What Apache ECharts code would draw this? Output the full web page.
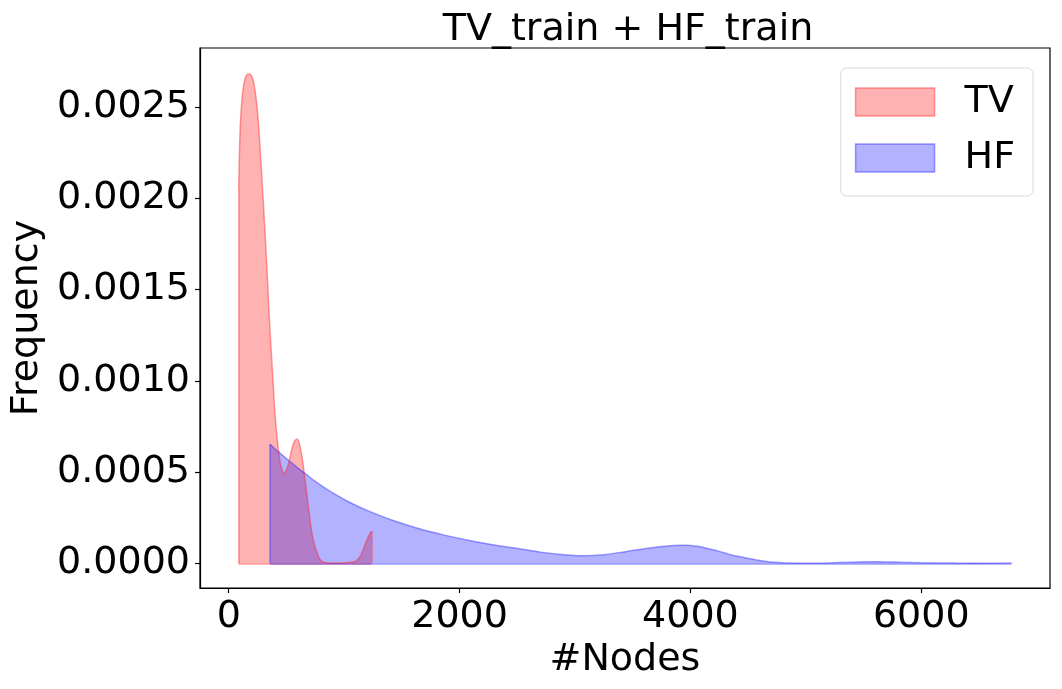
<!DOCTYPE html>
<html>
<head>
<meta charset="utf-8">
<script src="https://cdn.jsdelivr.net/npm/echarts@6/dist/echarts.min.js"></script>
<style>
html,body{margin:0;padding:0;background:#fff;}
#chart{width:1062px;height:689px;}
</style>
</head>
<body>
<div id="chart"></div>
<script>
// ---- data ----
const titleText = 'TV_train + HF_train';
const xName = '#Nodes';
const yName = 'Frequency';
const seriesNames = ['TV', 'HF'];

const xTicks = [0, 2000, 4000, 6000];
const yTicks = [0, 0.0005, 0.0010, 0.0015, 0.0020, 0.0025];

// TV density curve (x = #nodes, y = density)
const tvX = [86, 98, 112, 127, 150, 179, 205, 228, 250, 271, 292, 314, 336, 358, 380, 401, 422, 444, 463, 481, 498, 516, 537, 559, 576, 594, 612, 631, 652, 674, 696, 718, 740, 761, 782, 804, 850, 900, 950, 1000, 1050, 1100, 1130, 1161, 1202, 1236];
const tvY = [0.00205, 0.00237, 0.00252, 0.00261, 0.00267, 0.00268, 0.00266, 0.00259, 0.00247, 0.00228, 0.00206, 0.00182, 0.00155, 0.00127, 0.00104, 0.000818, 0.00067, 0.000561, 0.00051, 0.000492, 0.000508, 0.000543, 0.0006, 0.000653, 0.000675, 0.000682, 0.000655, 0.000598, 0.000505, 0.000397, 0.00028, 0.000177, 0.00011, 0.0000675, 0.000032, 0.000012, 0.000004, 0.000002, 0.000002, 0.000003, 0.000006, 0.000012, 0.00003, 0.00007, 0.000137, 0.000177];

// HF density curve
const hfX = [358, 400, 444, 500, 550, 600, 660, 750, 890, 1050, 1219, 1430, 1651, 1870, 2084, 2300, 2516, 2700, 2880, 3061, 3250, 3450, 3650, 3850, 3950, 4073, 4159, 4250, 4332, 4420, 4505, 4600, 4678, 4760, 4851, 5024, 5200, 5400, 5603, 5800, 6001, 6295, 6550, 6780];
const hfY = [0.000653, 0.000628, 0.000604, 0.000574, 0.000548, 0.000522, 0.000494, 0.000449, 0.00039, 0.000334, 0.000285, 0.000234, 0.00019, 0.000155, 0.000126, 0.000101, 0.0000805, 0.000062, 0.000049, 0.000042, 0.000048, 0.000066, 0.000085, 0.000098, 0.0001, 0.000093, 0.00008, 0.000066, 0.000051, 0.000038, 0.0000275, 0.000016, 0.000009, 0.000005, 0.000002, 0.000001, 0.000003, 0.000007, 0.000009, 0.000007, 0.000004, 0.000002, 0.0000015, 0.000002];

// axis ranges (matplotlib-style 5% margins)
const xMin = -249, xMax = 7115;
const yMin = -0.0001345, yMax = 0.002823;

// ---- build chart ----
const pairs = (xs, ys) => xs.map((x, i) => [x, ys[i]]);
const FONT = 'DejaVu Sans';
const tvFill = 'rgba(255,0,0,0.3)', tvEdge = 'rgba(255,40,40,0.45)';
const hfFill = 'rgba(0,0,255,0.3)', hfEdge = 'rgba(40,40,255,0.45)';

const chart = echarts.init(document.getElementById('chart'), null, {renderer: 'canvas'});

function curveSeries(name, xs, ys, fill, edge) {
  const n = xs.length - 1;
  return {
    name: name,
    type: 'line',
    data: pairs(xs, ys),
    showSymbol: false,
    symbol: 'none',
    smooth: 0.3,
    lineStyle: {color: edge, width: 1.5},
    itemStyle: {color: fill},
    areaStyle: {color: fill, origin: 'auto', opacity: 1},
    markLine: {
      silent: true,
      symbol: 'none',
      label: {show: false},
      lineStyle: {color: edge, width: 1.5, type: 'solid'},
      data: [
        [{coord: [xs[0], 0]}, {coord: [xs[n], 0]}],
        [{coord: [xs[0], 0]}, {coord: [xs[0], ys[0]]}],
        [{coord: [xs[n], 0]}, {coord: [xs[n], ys[n]]}]
      ]
    },
    animation: false
  };
}

chart.setOption({
  animation: false,
  backgroundColor: '#fff',
  title: {
    text: titleText,
    left: 623,
    top: 6,
    textAlign: 'center',
    textStyle: {fontFamily: FONT, fontSize: 38, fontWeight: 'normal', color: '#000'}
  },
  legend: {
    right: 29,
    top: 68,
    orient: 'vertical',
    padding: [15, 18, 19, 14],
    itemWidth: 79,
    itemHeight: 28,
    itemGap: 18,
    icon: 'rect',
    borderColor: '#d6d6d6',
    borderWidth: 1,
    borderRadius: 6,
    backgroundColor: '#fff',
    selectedMode: false,
    textStyle: {fontFamily: FONT, fontSize: 38, color: '#000', padding: [0, 0, 0, 25]},
    data: [
      {name: seriesNames[0], itemStyle: {color: tvFill, borderColor: tvEdge, borderWidth: 1.5}},
      {name: seriesNames[1], itemStyle: {color: hfFill, borderColor: hfEdge, borderWidth: 1.5}}
    ]
  },
  grid: {
    left: 200, top: 48, right: 12, bottom: 101,
    show: true, borderColor: '#000', borderWidth: 1.2, backgroundColor: 'transparent'
  },
  xAxis: {
    type: 'value',
    min: xMin, max: xMax,
    name: xName,
    nameLocation: 'middle',
    nameGap: 50,
    nameTextStyle: {fontFamily: FONT, fontSize: 38, color: '#000'},
    axisLine: {show: true, onZero: false, lineStyle: {color: '#000', width: 1.2}},
    axisTick: {show: true, inside: false, length: 5, lineStyle: {color: '#000', width: 1.2}, customValues: xTicks},
    axisLabel: {fontFamily: FONT, fontSize: 38, color: '#000', margin: 10, customValues: xTicks, formatter: v => String(v)},
    splitLine: {show: false}
  },
  yAxis: {
    type: 'value',
    min: yMin, max: yMax,
    name: yName,
    nameLocation: 'middle',
    nameGap: 152,
    nameTextStyle: {fontFamily: FONT, fontSize: 38, color: '#000'},
    axisLine: {show: true, onZero: false, lineStyle: {color: '#000', width: 1.2}},
    axisTick: {show: true, inside: false, length: 5, lineStyle: {color: '#000', width: 1.2}, customValues: yTicks},
    axisLabel: {fontFamily: FONT, fontSize: 38, color: '#000', margin: 10, customValues: yTicks, formatter: v => v.toFixed(4)},
    splitLine: {show: false}
  },
  series: [
    curveSeries(seriesNames[0], tvX, tvY, tvFill, tvEdge),
    curveSeries(seriesNames[1], hfX, hfY, hfFill, hfEdge)
  ]
});
</script>
</body>
</html>
